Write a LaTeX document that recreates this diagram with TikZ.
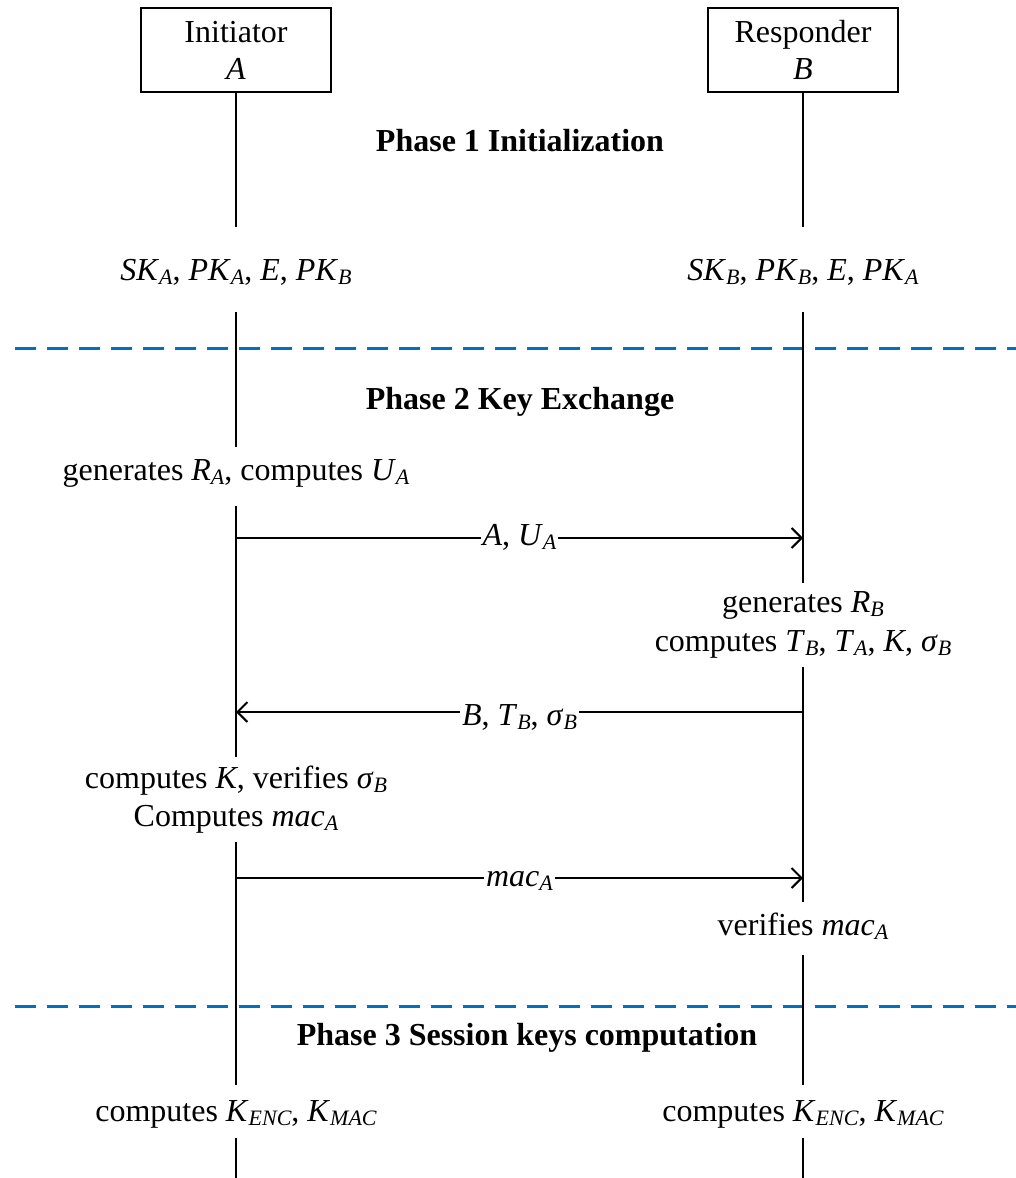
\documentclass[tikz,border=0pt]{standalone}
\usepackage{fontspec}
\setmainfont{Liberation Serif}
\usetikzlibrary{arrows.meta}
\definecolor{phaseblue}{RGB}{0,112,192}
\newcommand\sbs[1]{\raisebox{-0.14em}{\fontsize{22}{22}\selectfont\itshape #1}}
\begin{document}
\begin{tikzpicture}[x=1pt,y=-1pt,
  every node/.style={font=\fontsize{32}{37}\selectfont, inner sep=0pt},
  actor/.style={draw, line width=2pt, minimum width=190pt, minimum height=84pt, align=center},
  lifeline/.style={line width=2pt},
  phasesep/.style={phaseblue, line width=3pt, dash pattern=on 21pt off 11pt},
  msg/.style={line width=2pt, -{Straight Barb[length=10pt,width=20pt]}},
  msglabel/.style={fill=white, inner xsep=2pt, inner ysep=3pt, anchor=base},
  phase/.style={font=\fontsize{32}{37}\selectfont\bfseries, anchor=base},
  act/.style={anchor=base}
]
\useasboundingbox (0,0) rectangle (1016,1178);

% actors
\node[actor] (boxA) at (236,50) {Initiator\\\textit{A}};
\node[actor] (boxB) at (803,50) {Responder\\\textit{B}};

% phase titles
\node[phase] (ph1) at (520,151) {Phase 1 Initialization};
\node[phase] (ph2) at (520,409) {Phase 2 Key Exchange};
\node[phase] (ph3) at (527,1045) {Phase 3 Session keys computation};

% phase separators
\coordinate (s1l) at (15,348); \coordinate (s1r) at (1016,348);
\coordinate (s2l) at (15,1006); \coordinate (s2r) at (1016,1006);
\draw[phasesep] (s1l) -- (s1r);
\draw[phasesep] (s2l) -- (s2r);

% texts
\node[act] (keysA) at (236,280) {\textit{SK}\sbs{A}, \textit{PK}\sbs{A}, \textit{E}, \textit{PK}\sbs{B}};
\node[act] (keysB) at (803,280) {\textit{SK}\sbs{B}, \textit{PK}\sbs{B}, \textit{E}, \textit{PK}\sbs{A}};
\node[act] (genA) at (236,480) {generates \textit{R}\sbs{A}, computes \textit{U}\sbs{A}};
\node[act] (genB) at (803,612) {generates \textit{R}\sbs{B}};
\node[act] (compB) at (803,651) {computes \textit{T}\sbs{B}, \textit{T}\sbs{A}, \textit{K}, \textit{σ}\sbs{B}};
\node[act] (compK) at (236,788) {computes \textit{K}, verifies \textit{σ}\sbs{B}};
\node[act] (compMac) at (236,826) {Computes \textit{mac}\sbs{A}};
\node[act] (verMac) at (803,935) {verifies \textit{mac}\sbs{A}};
\node[act] (sessA) at (236,1121) {computes \textit{K}\sbs{ENC}, \textit{K}\sbs{MAC}};
\node[act] (sessB) at (803,1121) {computes \textit{K}\sbs{ENC}, \textit{K}\sbs{MAC}};

% lifeline break points
\coordinate (A1) at (236,227); \coordinate (A2) at (236,312);
\coordinate (A3) at (236,447); \coordinate (A4) at (236,506);
\coordinate (A5) at (236,757); \coordinate (A6) at (236,842);
\coordinate (A7) at (236,1085); \coordinate (A8) at (236,1138);
\coordinate (A9) at (236,1178);
\coordinate (B1) at (803,227); \coordinate (B2) at (803,312);
\coordinate (B3) at (803,583); \coordinate (B4) at (803,667);
\coordinate (B5) at (803,902); \coordinate (B6) at (803,955);
\coordinate (B7) at (803,1085); \coordinate (B8) at (803,1138);
\coordinate (B9) at (803,1178);

\draw[lifeline] (boxA.south) -- (A1) (A2) -- (A3) (A4) -- (A5) (A6) -- (A7) (A8) -- (A9);
\draw[lifeline] (boxB.south) -- (B1) (B2) -- (B3) (B4) -- (B5) (B6) -- (B7) (B8) -- (B9);

% message points
\coordinate (mA1) at (236,538); \coordinate (mB1) at (803,538);
\coordinate (mB2) at (803,712); \coordinate (mA2) at (236,712);
\coordinate (mA3) at (236,878); \coordinate (mB3) at (803,878);

\draw[msg] (mA1) -- node[msglabel, yshift=-7.5pt] (l1) {\textit{A}, \textit{U}\sbs{A}} (mB1);
\draw[msg] (mB2) -- node[msglabel, yshift=-13pt] (l2) {\textit{B}, \textit{T}\sbs{B}, \textit{σ}\sbs{B}} (mA2);
\draw[msg] (mA3) -- node[msglabel, yshift=-8pt] (l3) {\textit{mac}\sbs{A}} (mB3);
\end{tikzpicture}
\end{document}
